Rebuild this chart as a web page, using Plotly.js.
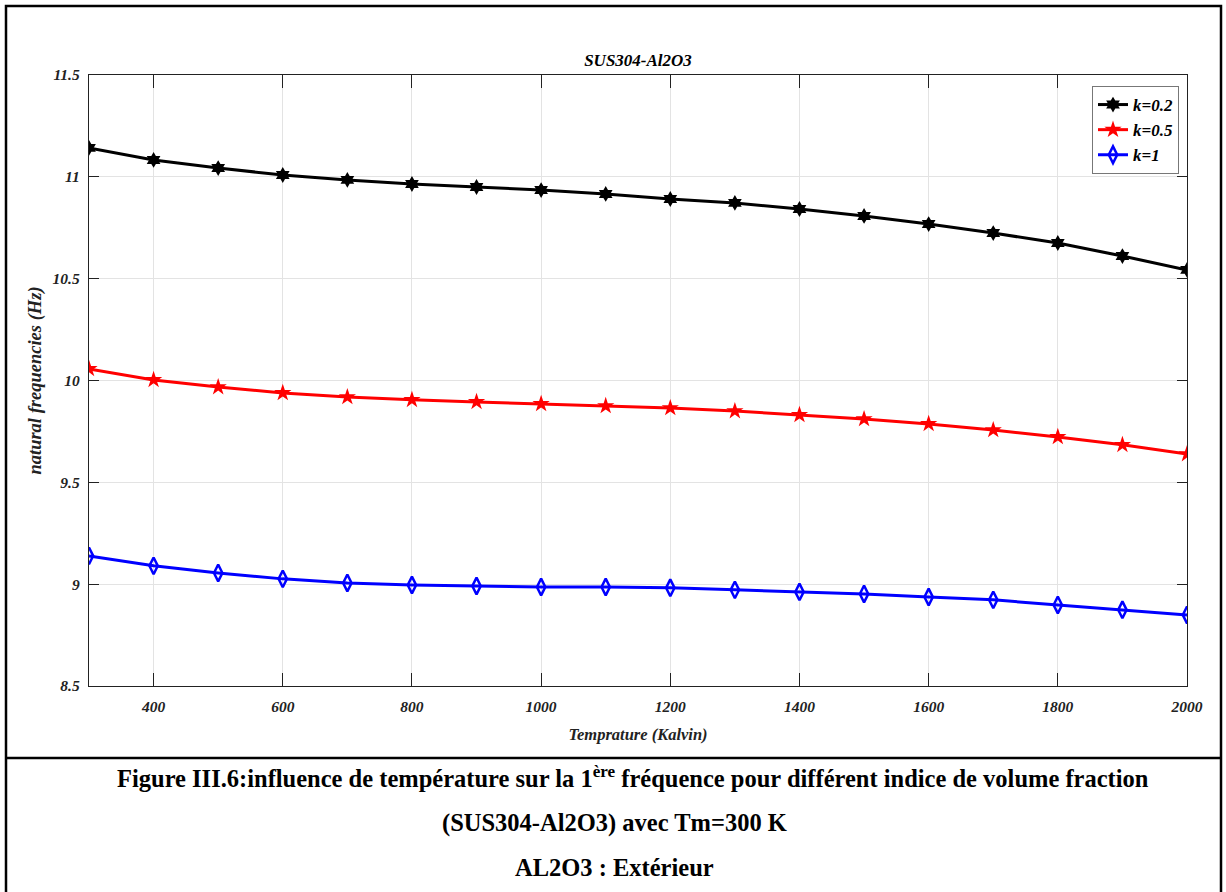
<!DOCTYPE html>
<html>
<head>
<meta charset="utf-8">
<script src="https://cdn.plot.ly/plotly-3.0.1.min.js"></script>
<style>html,body{margin:0;padding:0;background:#fff;}#chart{width:1226px;height:892px;}</style>
</head>
<body>
<div id="chart"></div>
<script>
const temperature = [300,400,500,600,700,800,900,1000,1100,1200,1300,1400,1500,1600,1700,1800,1900,2000];
const freqK02 = [11.142,11.083,11.043,11.009,10.985,10.965,10.950,10.935,10.916,10.891,10.872,10.842,10.808,10.768,10.724,10.675,10.611,10.543];
const freqK05 = [10.057,10.003,9.968,9.939,9.919,9.905,9.895,9.885,9.875,9.865,9.850,9.831,9.811,9.787,9.757,9.723,9.684,9.639];
const freqK1  = [9.139,9.090,9.055,9.026,9.006,8.996,8.991,8.986,8.986,8.982,8.972,8.962,8.952,8.937,8.923,8.898,8.874,8.849];
const seriesNames = ['k=0.2','k=0.5','k=1'];
const xTicks = [400,600,800,1000,1200,1400,1600,1800,2000];
const yTicks = [8.5,9,9.5,10,10.5,11,11.5];

const W = 1226, H = 892;
const L = 89, R = 1187, T = 75, B = 686;
const px = x => (x - L) / (R - L);
const py = y => (B - y) / (B - T);

const serif = 'Liberation Serif, Times New Roman, serif';
const tickFont = {family: serif, size: 15.5, color: '#222', weight: 'bold', style: 'italic'};

const traces = [
  {x: temperature, y: freqK02, name: seriesNames[0], mode: 'lines+markers',
   line: {color: '#000000', width: 3}, marker: {symbol: 'hexagram', size: 12, color: '#000000'}},
  {x: temperature, y: freqK05, name: seriesNames[1], mode: 'lines+markers',
   line: {color: '#ff0000', width: 3}, marker: {symbol: 'star', size: 13, color: '#ff0000'}},
  {x: temperature, y: freqK1, name: seriesNames[2], mode: 'lines+markers',
   line: {color: '#0000ff', width: 3}, marker: {symbol: 'diamond-tall-open', size: 12, color: '#0000ff', line: {width: 2.5, color: '#0000ff'}}}
];

const layout = {
  width: W, height: H,
  margin: {l: L, r: W - R, t: T, b: H - B},
  paper_bgcolor: '#fff', plot_bgcolor: '#fff',
  showlegend: true,
  title: {text: 'SUS304-Al2O3', font: {family: serif, size: 17, color: '#000', weight: 'bold', style: 'italic'},
          xref: 'paper', x: 0.5, xanchor: 'center', yref: 'container', y: 1 - 60 / H, yanchor: 'middle'},
  xaxis: {
    range: [300, 2000], tickvals: xTicks, ticktext: xTicks.map(String),
    ticks: 'inside', ticklen: 13, tickcolor: '#222', tickwidth: 1,
    showline: true, linecolor: '#222', linewidth: 1.2, mirror: 'ticks',
    showgrid: true, gridcolor: '#e3e3e3', gridwidth: 1, zeroline: false,
    tickfont: tickFont, ticklabelstandoff: 6,
    title: {text: 'Temprature (Kalvin)', font: {family: serif, size: 16.5, color: '#222', weight: 'bold', style: 'italic'}, standoff: 14}
  },
  yaxis: {
    range: [8.5, 11.5], tickvals: yTicks, ticktext: yTicks.map(String),
    ticks: 'inside', ticklen: 10, tickcolor: '#222', tickwidth: 1,
    showline: true, linecolor: '#222', linewidth: 1.2, mirror: 'ticks',
    showgrid: true, gridcolor: '#e3e3e3', gridwidth: 1, zeroline: false,
    tickfont: tickFont, ticklabelstandoff: 5,
    title: {text: 'natural frequencies (Hz)', font: {family: serif, size: 18.5, color: '#222', weight: 'bold', style: 'italic'}, standoff: 6}
  },
  legend: {
    x: px(1092), y: py(86), xanchor: 'left', yanchor: 'top',
    bgcolor: '#fff', bordercolor: '#777', borderwidth: 1,
    font: {family: serif, size: 17, color: '#000', weight: 'bold', style: 'italic'},
    itemwidth: 30, tracegroupgap: 0
  },
  shapes: [
    {type: 'rect', xref: 'paper', yref: 'paper', x0: px(6), x1: px(1221), y0: py(6), y1: py(900),
     line: {color: '#000', width: 2.5}, fillcolor: 'rgba(0,0,0,0)'},
    {type: 'line', xref: 'paper', yref: 'paper', x0: px(6), x1: px(1221), y0: py(758), y1: py(758),
     line: {color: '#000', width: 2.5}}
  ],
  annotations: [
    {xref: 'paper', yref: 'paper', x: px(633), y: py(777), xanchor: 'center', yanchor: 'middle', showarrow: false,
     text: 'Figure III.6:influence de température sur la 1<sup>ère</sup> fréquence pour différent indice de volume fraction',
     font: {family: serif, size: 24.5, color: '#000', weight: 'bold'}},
    {xref: 'paper', yref: 'paper', x: px(614), y: py(823), xanchor: 'center', yanchor: 'middle', showarrow: false,
     text: '(SUS304-Al2O3) avec Tm=300 K',
     font: {family: serif, size: 24.5, color: '#000', weight: 'bold'}},
    {xref: 'paper', yref: 'paper', x: px(614), y: py(867), xanchor: 'center', yanchor: 'middle', showarrow: false,
     text: 'AL2O3 : Extérieur',
     font: {family: serif, size: 24.5, color: '#000', weight: 'bold'}}
  ]
};

Plotly.newPlot('chart', traces, layout, {displayModeBar: false, staticPlot: true});
</script>
</body>
</html>
